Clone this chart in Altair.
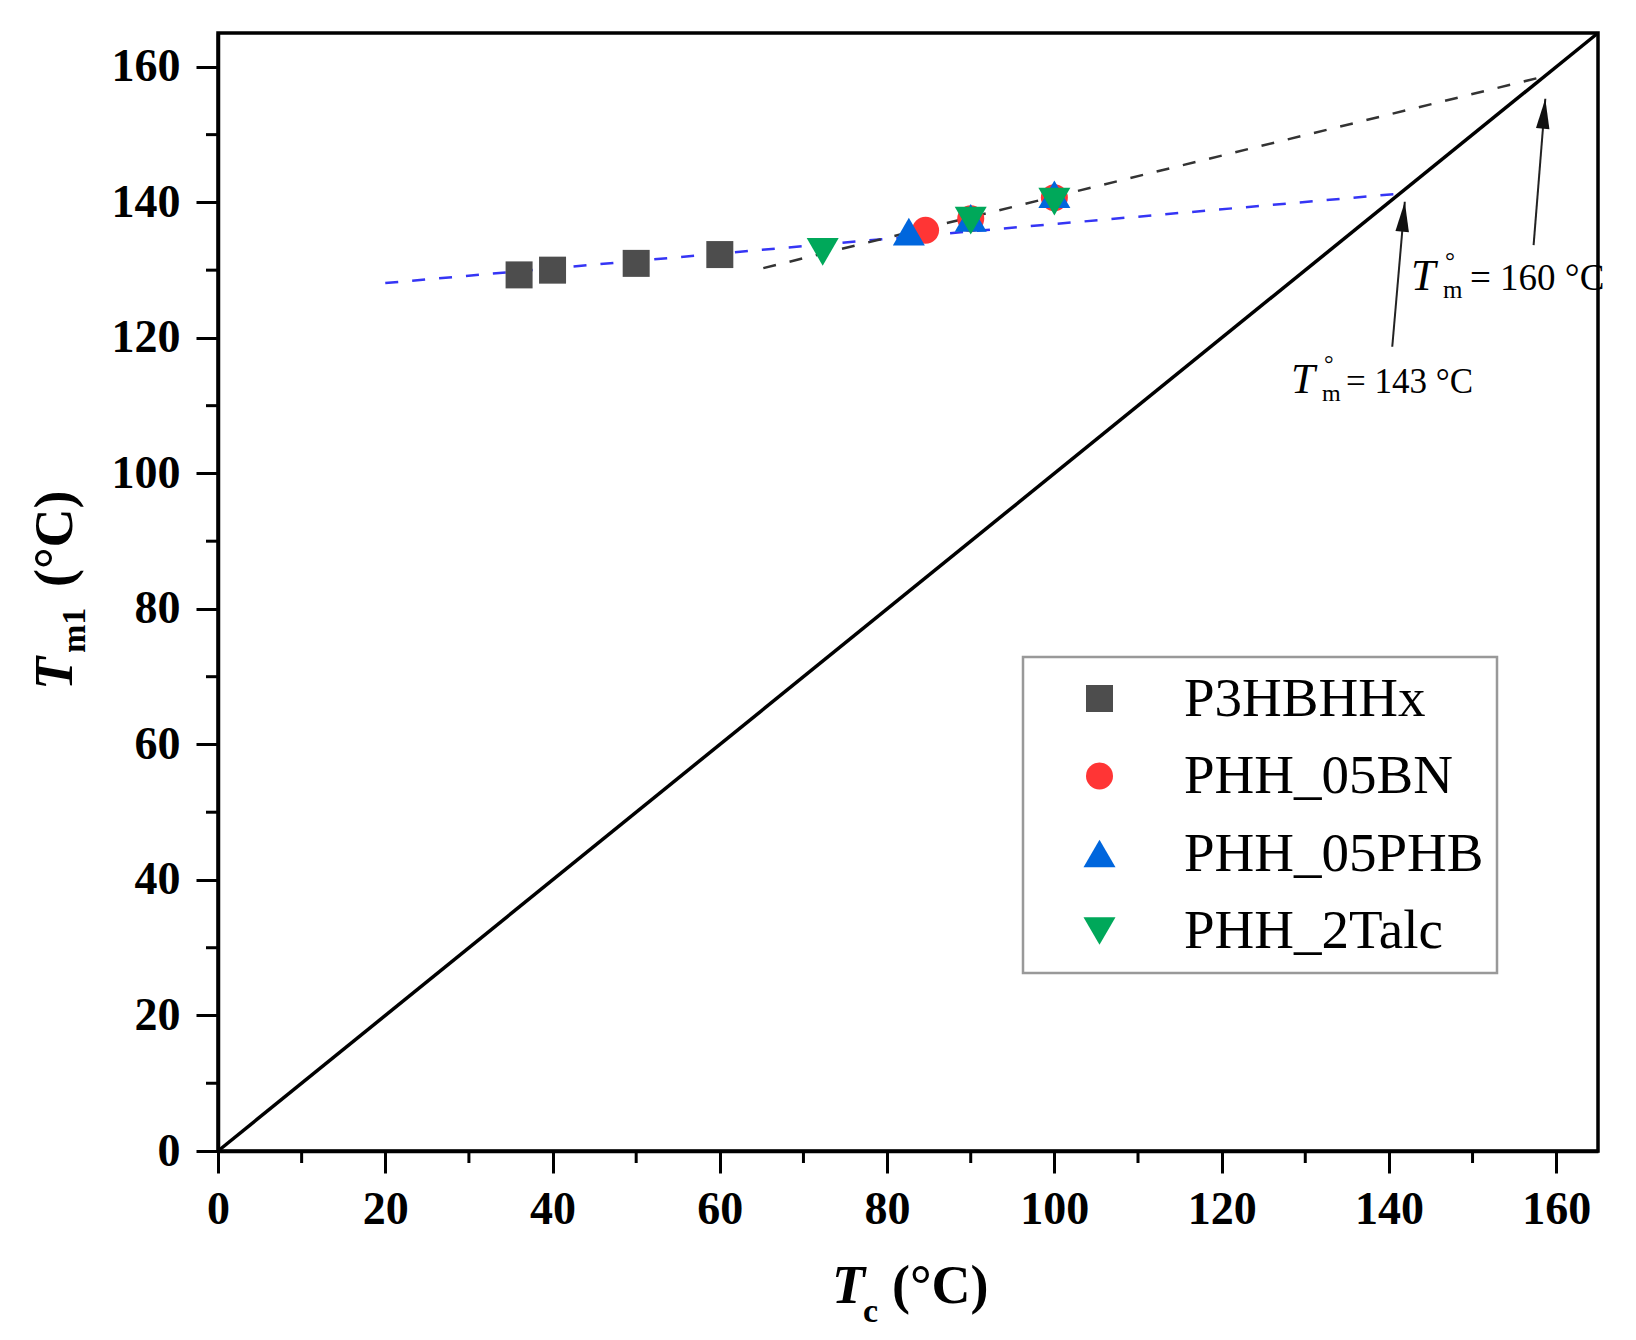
import altair as alt
import pandas as pd

# ---------------- data ----------------
series_names = ["P3HBHHx", "PHH_05BN", "PHH_05PHB", "PHH_2Talc"]
series_colors = ["#4D4D4D", "#FF3535", "#0066DD", "#00A85A"]
series_shapes = ["square", "circle", "triangle-up", "triangle-down"]
series_sizes = [729, 729, 1024, 1024]

p3hbhhx_tc = [36, 40, 50, 60]
p3hbhhx_tm = [129.3, 130.0, 131.0, 132.3]
bn_tc = [84.6, 90, 100]
bn_tm = [135.9, 137.6, 140.7]
phb_tc = [82.6, 90, 100]
phb_tm = [135.7, 137.7, 141.2]
talc_tc = [72.3, 90, 100]
talc_tm = [132.7, 137.3, 140.1]

diag_tc = [0, 165]
diag_tm = [0, 165]
blue_fit_tc = [20, 141.3]
blue_fit_tm = [128.1, 141.3]
black_fit_tc = [65.2, 158.6]
black_fit_tm = [130.3, 158.6]

arrow_tail_tc = [140.4, 157.3]
arrow_tail_tm = [118.7, 133.7]
arrow_tip_tc = [141.9, 158.7]
arrow_tip_tm = [140.1, 155.3]

major_ticks = [0, 20, 40, 60, 80, 100, 120, 140, 160]
minor_ticks = [10, 30, 50, 70, 90, 110, 130, 150]

# ---------------- layout ----------------
W, H = 1380, 1118
SERIF = "Liberation Serif"

rows = []
for name, xs_, ys_ in [
    (series_names[0], p3hbhhx_tc, p3hbhhx_tm),
    (series_names[1], bn_tc, bn_tm),
    (series_names[2], phb_tc, phb_tm),
    (series_names[3], talc_tc, talc_tm),
]:
    for a, b in zip(xs_, ys_):
        rows.append({"series": name, "tc": a, "tm": b})
points_df = pd.DataFrame(rows)

xscale = alt.Scale(domain=[0, 165], nice=False, zero=False)
yscale = alt.Scale(domain=[0, 165], nice=False, zero=False)

axis_common = dict(
    values=major_ticks, format="d", title=None, grid=False,
    labelFont=SERIF, labelFontWeight="bold", labelFontSize=46, labelColor="black",
    tickSize=22, tickWidth=3, tickColor="black",
    domainColor="black", domainWidth=3.5,
    labelFlush=False, labelOverlap=False,
)
xaxis = alt.Axis(labelPadding=14, **axis_common)
yaxis = alt.Axis(labelPadding=16, **axis_common)


def X(field):
    return alt.X(f"{field}:Q", scale=xscale, axis=xaxis)


def Y(field):
    return alt.Y(f"{field}:Q", scale=yscale, axis=yaxis)


def line_layer(xv, yv, **mk):
    df = pd.DataFrame({"tc": xv, "tm": yv})
    return alt.Chart(df).mark_line(**mk).encode(x=X("tc"), y=Y("tm"))


diag = line_layer(diag_tc, diag_tm, color="black", strokeWidth=3.5)
blue_fit = line_layer(blue_fit_tc, blue_fit_tm, color="#3535F5",
                      strokeWidth=2.5, strokeDash=[13, 14])
black_fit = line_layer(black_fit_tc, black_fit_tm, color="#333333",
                       strokeWidth=2.5, strokeDash=[13, 14])

leg = alt.Legend(
    title=None, orient="none", legendX=805, legendY=624,
    padding=14, symbolOffset=35, labelOffset=57, rowPadding=21.5,
    labelFont=SERIF, labelFontSize=55, labelColor="black", labelLimit=1000,
    symbolStrokeWidth=0, symbolOpacity=1,
)

points = alt.Chart(points_df).mark_point(filled=True, opacity=1, strokeWidth=0).encode(
    x=X("tc"), y=Y("tm"),
    color=alt.Color("series:N", scale=alt.Scale(domain=series_names, range=series_colors), legend=leg),
    shape=alt.Shape("series:N", scale=alt.Scale(domain=series_names, range=series_shapes), legend=leg),
    size=alt.Size("series:N", scale=alt.Scale(type="ordinal", domain=series_names, range=series_sizes), legend=leg),
)

legend_box = alt.Chart(alt.Data(values=[{}])).mark_rect(
    fill="white", stroke="#999999", strokeWidth=2.5
).encode(x=alt.value(805), x2=alt.value(1279), y=alt.value(624), y2=alt.value(940))

# minor ticks
minor_df = pd.DataFrame({"v": minor_ticks})
x_minor = alt.Chart(minor_df).mark_rule(color="black", strokeWidth=3).encode(
    x=X("v"), y=alt.value(H), y2=alt.value(H + 12))
y_minor = alt.Chart(minor_df).mark_rule(color="black", strokeWidth=3).encode(
    y=Y("v"), x=alt.value(0), x2=alt.value(-12))

# arrows
arrow_df = pd.DataFrame({"tx": arrow_tail_tc, "ty": arrow_tail_tm,
                         "hx": arrow_tip_tc, "hy": arrow_tip_tm})
arrow_lines = alt.Chart(arrow_df).mark_rule(color="#222222", strokeWidth=2).encode(
    x=X("tx"), y=Y("ty"), x2="hx:Q", y2="hy:Q")
arrow_heads = alt.Chart(arrow_df).mark_point(
    shape="M0,0L0.45,2L-0.45,2Z", filled=True, opacity=1, size=900, angle=5,
    color="#111111", strokeWidth=0
).encode(x=X("hx"), y=Y("hy"))


def txt(text, x, y, size, style="normal", weight="normal", angle=0):
    return alt.Chart(alt.Data(values=[{}])).mark_text(
        text=text, font=SERIF, fontSize=size, fontStyle=style, fontWeight=weight,
        align="left", baseline="alphabetic", angle=angle, color="black",
    ).encode(x=alt.value(x), y=alt.value(y))


texts = [
    # x axis title
    txt("T", 614, 1270, 54, "italic", "bold"),
    txt("c", 645, 1289, 34, "normal", "bold"),
    txt("(°C)", 674, 1270, 54, "normal", "bold"),
    # y axis title
    txt("T", -146, 657, 54, "italic", "bold", 270),
    txt("m1", -133, 620, 34, "normal", "bold", 270),
    txt("(°C)", -146, 554, 54, "normal", "bold", 270),
    # annotation 143
    txt("T", 1073, 360, 43, "italic"),
    txt("°", 1106, 339, 24),
    txt("m", 1104, 368, 24),
    txt("= 143 °C", 1128, 360, 35),
    # annotation 160
    txt("T", 1193, 257, 44, "italic"),
    txt("°", 1227, 236, 25),
    txt("m", 1225, 265, 25),
    txt("= 160 °C", 1252, 257, 37),
]

chart = alt.layer(
    legend_box, diag, blue_fit, black_fit, x_minor, y_minor,
    arrow_lines, arrow_heads, points, *texts
).properties(
    width=W, height=H,
    autosize=alt.AutoSizeParams(type="none"),
    padding={"left": 210, "top": 25, "right": 30, "bottom": 181},
    background="white",
).configure_view(stroke="black", strokeWidth=3.5)

chart.save("out.html", embed_options={"renderer": "svg", "actions": False})
